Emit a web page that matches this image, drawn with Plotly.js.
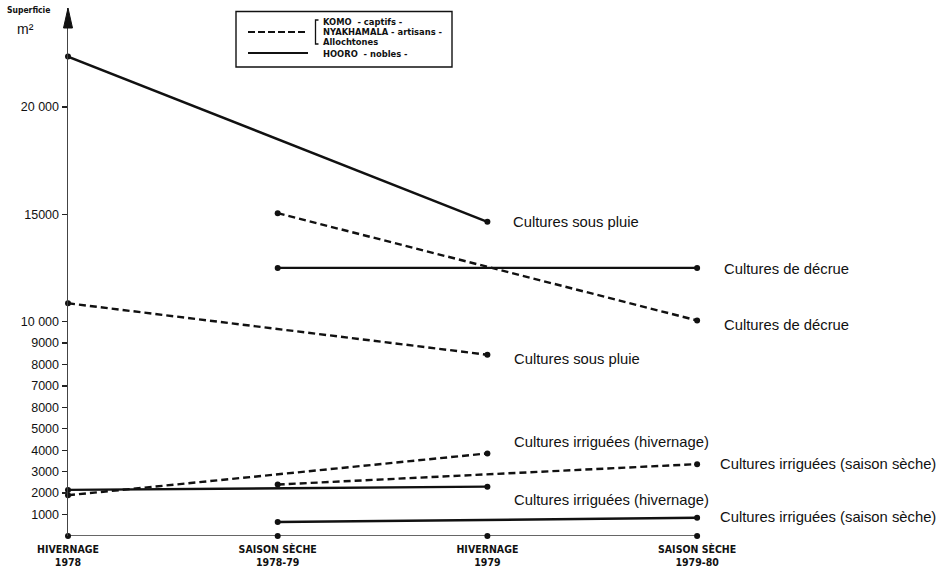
<!DOCTYPE html>
<html>
<head>
<meta charset="utf-8">
<script src="https://cdn.plot.ly/plotly-3.0.1.min.js"></script>
<style>html,body{margin:0;padding:0;background:#fff;}#chart{width:949px;height:576px;}</style>
</head>
<body>
<div id="chart"></div>
<script>
// ---- data ----
const periods = ['HIVERNAGE<br>1978', 'SAISON SÈCHE<br>1978-79', 'HIVERNAGE<br>1979', 'SAISON SÈCHE<br>1979-80'];
const periodIdx = [0, 1, 2, 3];
const yTickVals = [1000, 2000, 3000, 4000, 5000, 6000, 7000, 8000, 9000, 10000, 15000, 20000];
const yTickText = ['1000', '2000', '3000', '4000', '5000', '8000', '7000', '8000', '9000', '10 000', '15000', '20 000'];

const hooroPluie   = [22350, null, 14650, null];
const komoPluie    = [10850, null, 8450, null];
const hooroDecrue  = [null, 12500, null, 12500];
const komoDecrue   = [null, 15050, null, 10050];
const hooroIrrHiv  = [2150, null, 2300, null];
const komoIrrHiv   = [1900, null, 3850, null];
const hooroIrrSS   = [null, 650, null, 850];
const komoIrrSS    = [null, 2400, null, 3350];

const labelPluie  = 'Cultures sous pluie';
const labelDecrue = 'Cultures de décrue';
const labelIrrHiv = 'Cultures irriguées (hivernage)';
const labelIrrSS  = 'Cultures irriguées (saison sèche)';

const legendKomo  = ['KOMO  - captifs -', 'NYAKHAMALA - artisans -', 'Allochtones'];
const legendHooro = 'HOORO  - nobles -';

// ---- styles / layout helpers ----
const L = 68, R = 944, T = 8, B = 536;
const px = x => (x - L) / (R - L);
const py = y => (B - y) / (B - T);
const yTop = (B - T) / 21.45 * 1000;
const xTop = (R - L) / 209.7;

const SOLID = {color: '#111', width: 2.4};
const DASHED = {color: '#111', width: 2.4, dash: '7px,4px'};

const series = [
  {y: hooroPluie,  line: SOLID,  label: labelPluie,  xs: 24, ys: 0},
  {y: komoPluie,   line: DASHED, label: labelPluie,  xs: 25, ys: -4},
  {y: hooroDecrue, line: SOLID,  label: labelDecrue, xs: 25, ys: -1},
  {y: komoDecrue,  line: DASHED, label: labelDecrue, xs: 25, ys: -5},
  {y: hooroIrrHiv, line: SOLID,  label: labelIrrHiv, xs: 25, ys: -13},
  {y: komoIrrHiv,  line: DASHED, label: labelIrrHiv, xs: 25, ys: 11},
  {y: hooroIrrSS,  line: SOLID,  label: labelIrrSS,  xs: 21, ys: 1},
  {y: komoIrrSS,   line: DASHED, label: labelIrrSS,  xs: 21, ys: 0}
];

const traces = [];
// horizontal time axis with dots at each period
traces.push({
  x: periodIdx, y: periodIdx.map(() => 0), type: 'scatter', mode: 'lines+markers',
  line: {color: '#333', width: 1.5}, marker: {color: '#111', size: 6},
  hoverinfo: 'skip', cliponaxis: false
});
const annotations = [];
series.forEach(s => {
  traces.push({
    x: periodIdx, y: s.y, type: 'scatter', mode: 'lines+markers', connectgaps: true,
    line: s.line, marker: {color: '#111', size: 6}, cliponaxis: false
  });
  let last = -1;
  s.y.forEach((v, i) => { if (v !== null) last = i; });
  annotations.push({
    x: periodIdx[last], y: s.y[last], xref: 'x', yref: 'y', text: s.label,
    showarrow: false, xanchor: 'left', yanchor: 'middle', xshift: s.xs, yshift: s.ys,
    font: {family: 'Liberation Sans, Arial, sans-serif', size: 14.8, color: '#111'}
  });
});

// axis caption
annotations.push({x: px(28), y: py(10), xref: 'paper', yref: 'paper', text: '<b>Superficie</b>',
  showarrow: false, xanchor: 'center', yanchor: 'middle',
  font: {family: 'Liberation Sans Narrow, DejaVu Sans Condensed, sans-serif', size: 8.5, color: '#111'}});
annotations.push({x: px(25), y: py(29), xref: 'paper', yref: 'paper', text: 'm²',
  showarrow: false, xanchor: 'center', yanchor: 'middle',
  font: {family: 'Liberation Sans, Arial, sans-serif', size: 14, color: '#111'}});

// legend texts
const legFont = {family: 'Liberation Sans Narrow, DejaVu Sans Condensed, sans-serif', size: 9.3, color: '#111'};
[22, 31.5, 41].forEach((yy, i) => annotations.push({
  x: px(321), y: py(yy), xref: 'paper', yref: 'paper', text: '<b>' + legendKomo[i] + '</b>',
  showarrow: false, xanchor: 'left', yanchor: 'middle', font: legFont}));
annotations.push({x: px(321), y: py(53.5), xref: 'paper', yref: 'paper', text: '<b>' + legendHooro + '</b>',
  showarrow: false, xanchor: 'left', yanchor: 'middle', font: legFont});

const shapes = [
  // legend box
  {type: 'rect', xref: 'paper', yref: 'paper', x0: px(236), x1: px(452), y0: py(67), y1: py(11.5),
   line: {color: '#111', width: 1.4}, fillcolor: 'rgba(0,0,0,0)'},
  {type: 'line', xref: 'paper', yref: 'paper', x0: px(248), x1: px(308), y0: py(32), y1: py(32),
   line: {color: '#111', width: 2, dash: '7px,3px'}},
  {type: 'line', xref: 'paper', yref: 'paper', x0: px(248), x1: px(308), y0: py(53), y1: py(53),
   line: {color: '#111', width: 2}},
  {type: 'path', xref: 'paper', yref: 'paper',
   path: `M ${px(318.5)},${py(20)} L ${px(315.5)},${py(20)} L ${px(315.5)},${py(44)} L ${px(318.5)},${py(44)}`,
   line: {color: '#111', width: 1.3}},
  // arrow head on the vertical axis
  {type: 'path', xref: 'paper', yref: 'paper',
   path: `M ${px(63.5)},${py(28)} L ${px(68)},${py(8)} L ${px(72.5)},${py(28)} Z`,
   fillcolor: '#111', line: {color: '#111', width: 1}}
];

const layout = {
  width: 949, height: 576,
  margin: {l: L, r: 949 - R, t: T, b: 576 - B},
  paper_bgcolor: '#fff', plot_bgcolor: '#fff',
  showlegend: false,
  font: {family: 'Liberation Sans, Arial, sans-serif', color: '#111'},
  xaxis: {
    range: [0, xTop], tickmode: 'array', tickvals: periodIdx, ticktext: periods.map(p => '<b>' + p + '</b>'),
    showgrid: false, zeroline: false, showline: false, ticks: '',
    tickfont: {family: 'Liberation Sans Narrow, DejaVu Sans Condensed, sans-serif', size: 10.5, color: '#111'},
    ticklabelstandoff: 5
  },
  yaxis: {
    range: [0, yTop], tickmode: 'array', tickvals: yTickVals, ticktext: yTickText,
    showgrid: false, zeroline: false, showline: true, linecolor: '#444', linewidth: 1.5,
    ticks: 'outside', ticklen: 5, tickwidth: 1.3, tickcolor: '#222',
    tickfont: {family: 'Liberation Sans, Arial, sans-serif', size: 12.5, color: '#111'}
  },
  annotations: annotations,
  shapes: shapes
};

Plotly.newPlot('chart', traces, layout, {displayModeBar: false, staticPlot: true});
</script>
</body>
</html>
